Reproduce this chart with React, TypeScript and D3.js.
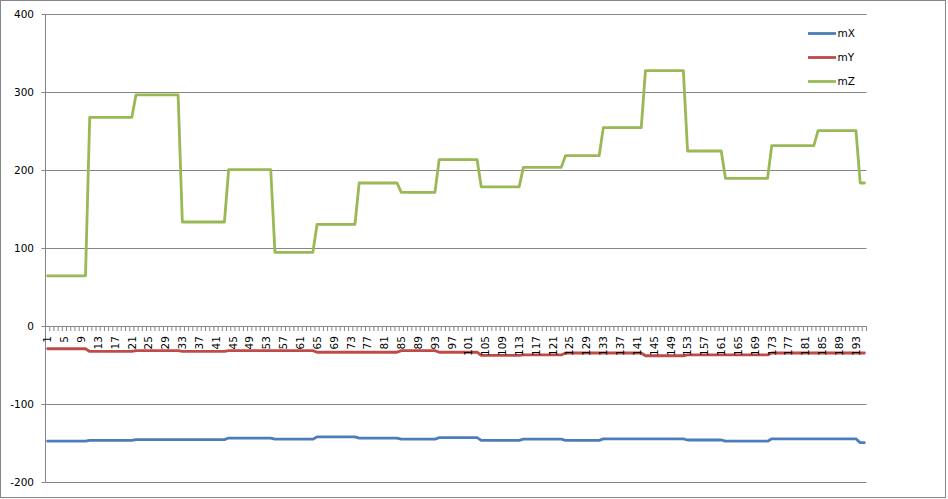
import React, { useEffect, useRef } from 'react';
import * as d3 from 'd3';

// Series values (195 categories)
const mX: number[] = [
  -147, -147, -147, -147, -147, -147, -147, -147, -147, -147,
  -146, -146, -146, -146, -146, -146, -146, -146, -146, -146, -146,
  -145, -145, -145, -145, -145, -145, -145, -145, -145, -145, -145,
  -145, -145, -145, -145, -145, -145, -145, -145, -145, -145, -145,
  -143, -143, -143, -143, -143, -143, -143, -143, -143, -143, -143,
  -144.5, -144.5, -144.5, -144.5, -144.5, -144.5, -144.5, -144.5, -144.5, -144.5,
  -141.5, -141.5, -141.5, -141.5, -141.5, -141.5, -141.5, -141.5, -141.5, -141.5,
  -143, -143, -143, -143, -143, -143, -143, -143, -143, -143,
  -144.5, -144.5, -144.5, -144.5, -144.5, -144.5, -144.5, -144.5, -144.5,
  -142.5, -142.5, -142.5, -142.5, -142.5, -142.5, -142.5, -142.5, -142.5, -142.5,
  -146, -146, -146, -146, -146, -146, -146, -146, -146, -146,
  -144.5, -144.5, -144.5, -144.5, -144.5, -144.5, -144.5, -144.5, -144.5, -144.5,
  -146, -146, -146, -146, -146, -146, -146, -146, -146,
  -144, -144, -144, -144, -144, -144, -144, -144, -144, -144,
  -144, -144, -144, -144, -144, -144, -144, -144, -144, -144,
  -145.5, -145.5, -145.5, -145.5, -145.5, -145.5, -145.5, -145.5, -145.5,
  -147, -147, -147, -147, -147, -147, -147, -147, -147, -147, -147,
  -144, -144, -144, -144, -144, -144, -144, -144, -144, -144, -144,
  -144, -144, -144, -144, -144, -144, -144, -144, -144, -144,
  -149, -149,
];

const mY: number[] = [
  -28.5, -28.5, -28.5, -28.5, -28.5, -28.5, -28.5, -28.5, -28.5, -28.5,
  -32, -32, -32, -32, -32, -32, -32, -32, -32, -32, -32,
  -31, -31, -31, -31, -31, -31, -31, -31, -31, -31, -31,
  -32, -32, -32, -32, -32, -32, -32, -32, -32, -32, -32,
  -31, -31, -31, -31, -31, -31, -31, -31, -31, -31, -31,
  -31, -31, -31, -31, -31, -31, -31, -31, -31, -31,
  -33, -33, -33, -33, -33, -33, -33, -33, -33, -33,
  -33, -33, -33, -33, -33, -33, -33, -33, -33, -33,
  -31, -31, -31, -31, -31, -31, -31, -31, -31,
  -33, -33, -33, -33, -33, -33, -33, -33, -33, -33,
  -37, -37, -37, -37, -37, -37, -37, -37, -37, -37,
  -36.5, -36.5, -36.5, -36.5, -36.5, -36.5, -36.5, -36.5, -36.5, -36.5,
  -34, -34, -34, -34, -34, -34, -34, -34, -34,
  -34, -34, -34, -34, -34, -34, -34, -34, -34, -34,
  -37.5, -37.5, -37.5, -37.5, -37.5, -37.5, -37.5, -37.5, -37.5, -37.5,
  -36.5, -36.5, -36.5, -36.5, -36.5, -36.5, -36.5, -36.5, -36.5,
  -36.5, -36.5, -36.5, -36.5, -36.5, -36.5, -36.5, -36.5, -36.5, -36.5, -36.5,
  -34, -34, -34, -34, -34, -34, -34, -34, -34, -34, -34,
  -34, -34, -34, -34, -34, -34, -34, -34, -34, -34,
  -34, -34,
];

const mZ: number[] = [
  65, 65, 65, 65, 65, 65, 65, 65, 65, 65,
  268, 268, 268, 268, 268, 268, 268, 268, 268, 268, 268,
  297, 297, 297, 297, 297, 297, 297, 297, 297, 297, 297,
  134, 134, 134, 134, 134, 134, 134, 134, 134, 134, 134,
  201, 201, 201, 201, 201, 201, 201, 201, 201, 201, 201,
  95, 95, 95, 95, 95, 95, 95, 95, 95, 95,
  131, 131, 131, 131, 131, 131, 131, 131, 131, 131,
  184, 184, 184, 184, 184, 184, 184, 184, 184, 184,
  172, 172, 172, 172, 172, 172, 172, 172, 172,
  214, 214, 214, 214, 214, 214, 214, 214, 214, 214,
  179, 179, 179, 179, 179, 179, 179, 179, 179, 179,
  204, 204, 204, 204, 204, 204, 204, 204, 204, 204,
  219, 219, 219, 219, 219, 219, 219, 219, 219,
  255, 255, 255, 255, 255, 255, 255, 255, 255, 255,
  328, 328, 328, 328, 328, 328, 328, 328, 328, 328,
  225, 225, 225, 225, 225, 225, 225, 225, 225,
  190, 190, 190, 190, 190, 190, 190, 190, 190, 190, 190,
  232, 232, 232, 232, 232, 232, 232, 232, 232, 232, 232,
  251, 251, 251, 251, 251, 251, 251, 251, 251, 251,
  184, 184,
];

const categories: number[] = mZ.map((_, i) => i + 1);
const yTicks: number[] = [-200, -100, 0, 100, 200, 300, 400];
const seriesNames: string[] = ['mX', 'mY', 'mZ'];
const seriesColors: string[] = ['#4a7ebb', '#be4b48', '#98b954'];

export default function App() {
  const ref = useRef<SVGSVGElement>(null);

  useEffect(() => {
    const svg = d3.select(ref.current);
    svg.selectAll('*').remove();
    const font = "'DejaVu Sans', Verdana, sans-serif";
    const grey = '#868686';

    const x = d3.scaleBand<number>().domain(categories).range([45.5, 866.5]);
    const cx = (c: number) => (x(c) as number) + x.bandwidth() / 2;
    const y = d3.scaleLinear().domain([-200, 400]).range([482.5, 14.5]);

    svg.append('rect')
      .attr('x', 0.5).attr('y', 0.5).attr('width', 945).attr('height', 497)
      .attr('fill', '#ffffff').attr('stroke', grey);

    // gridlines
    svg.append('g').selectAll('line').data(yTicks).join('line')
      .attr('x1', 45.5).attr('x2', 866.5)
      .attr('y1', (d) => y(d)).attr('y2', (d) => y(d))
      .attr('stroke', grey).attr('stroke-width', 1);

    // y axis
    svg.append('line').attr('x1', 45.5).attr('x2', 45.5)
      .attr('y1', y(400)).attr('y2', y(-200)).attr('stroke', grey);
    svg.append('g').selectAll('line').data(yTicks).join('line')
      .attr('x1', 41.5).attr('x2', 45.5)
      .attr('y1', (d) => y(d)).attr('y2', (d) => y(d))
      .attr('stroke', grey);
    svg.append('g').selectAll('text').data(yTicks).join('text')
      .attr('x', 34).attr('y', (d) => y(d)).attr('dy', '0.36em')
      .attr('text-anchor', 'end')
      .attr('font-family', font).attr('font-size', 10.5).attr('fill', '#000')
      .text((d) => String(d));

    // x axis at zero
    const y0 = y(0);
    svg.append('line').attr('x1', 45.5).attr('x2', 866.5)
      .attr('y1', y0).attr('y2', y0).attr('stroke', grey);
    const bounds = categories.map((c) => x(c) as number).concat([866.5]);
    svg.append('g').selectAll('line').data(bounds).join('line')
      .attr('x1', (d) => d).attr('x2', (d) => d)
      .attr('y1', y0).attr('y2', y0 + 4.5)
      .attr('stroke', grey);

    // series
    const series = [mX, mY, mZ];
    const line = d3.line<number>()
      .x((_, i) => cx(categories[i]))
      .y((d) => y(d));
    series.forEach((s, k) => {
      svg.append('path').datum(s)
        .attr('d', line)
        .attr('fill', 'none')
        .attr('stroke', seriesColors[k])
        .attr('stroke-width', 2.8)
        .attr('stroke-linejoin', 'round')
        .attr('stroke-linecap', 'round');
    });

    // x tick labels
    const labelCats = categories.filter((c) => (c - 1) % 4 === 0);
    svg.append('g').selectAll('text').data(labelCats).join('text')
      .attr('transform', (c) => `translate(${cx(c)},${y0 + 9.5}) rotate(-90)`)
      .attr('dy', '0.36em')
      .attr('text-anchor', 'end')
      .attr('font-family', font).attr('font-size', 10.5).attr('fill', '#000')
      .text((c) => String(c));

    // legend
    seriesNames.forEach((name, k) => {
      const ly = 33.5 + k * 24;
      svg.append('line').attr('x1', 808).attr('x2', 836)
        .attr('y1', ly).attr('y2', ly)
        .attr('stroke', seriesColors[k]).attr('stroke-width', 2.8);
      svg.append('text').attr('x', 837.5).attr('y', ly).attr('dy', '0.36em')
        .attr('font-family', font).attr('font-size', 10.5).attr('fill', '#000')
        .text(name);
    });
  }, []);

  return (
    <svg
      ref={ref}
      width={948}
      height={499}
      style={{ position: 'fixed', left: 0, top: 0, background: '#fff' }}
    />
  );
}
